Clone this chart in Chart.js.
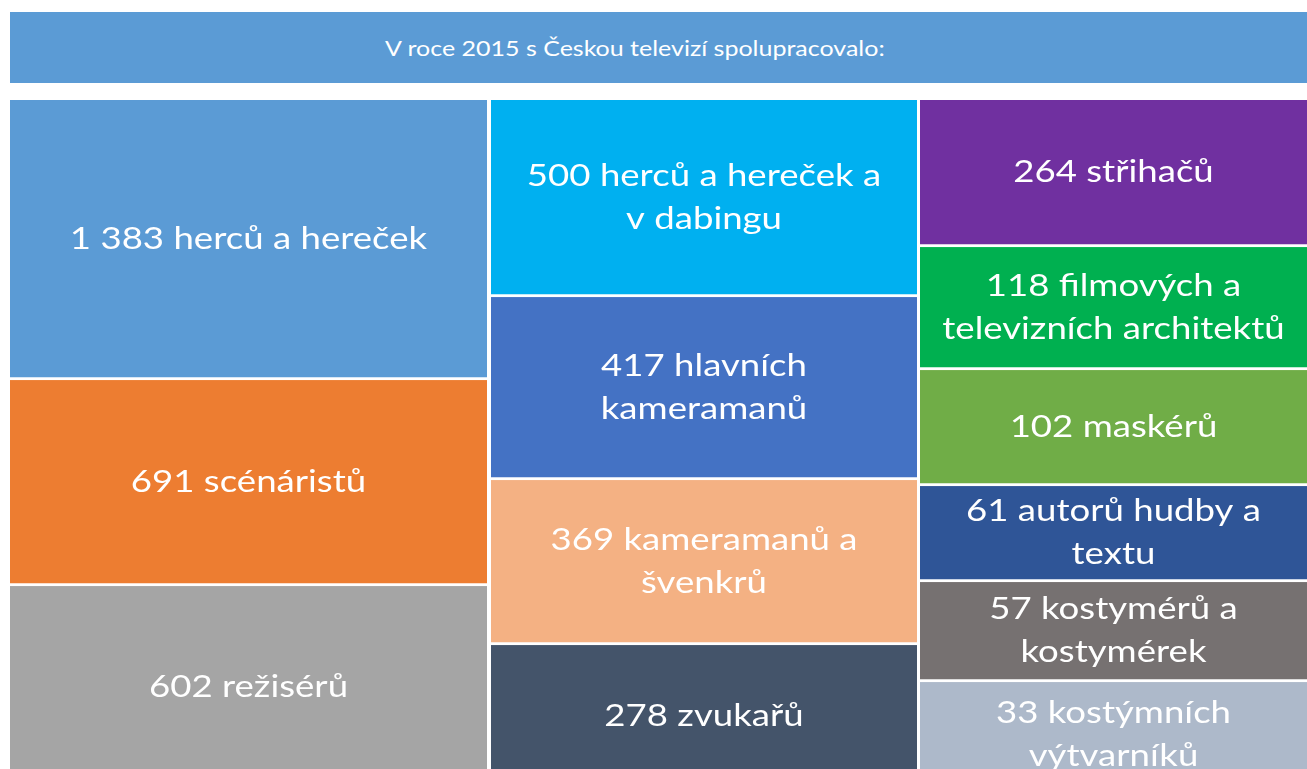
<!DOCTYPE html>
<html><head><meta charset="utf-8">
<script src="https://cdn.jsdelivr.net/npm/chart.js@4/dist/chart.umd.min.js"></script>
<style>
html,body{margin:0;padding:0;background:#fff;overflow:hidden;width:1307px;height:769px;position:relative}
#title{position:absolute;left:10px;top:12px;width:1297px;height:71px;background:#5B9BD5;color:#fff;font:21px Lato,sans-serif;display:flex;align-items:center;justify-content:center}
#title span{display:inline-block;transform:translateX(-24px) scaleX(1.19)}
canvas{position:absolute}
</style></head><body>
<div id="title"><span id="titleText"></span></div>
<canvas id="c1"></canvas><canvas id="c2"></canvas><canvas id="c3"></canvas>
<script>
// ---- data ----
const titleText = 'V roce 2015 s Českou televizí spolupracovalo:';
const col1Values = [1383, 691, 602];
const col1Names = ['herců a hereček', 'scénáristů', 'režisérů'];
const col2Values = [500, 417, 369, 278];
const col2Names = ['herců a hereček a\nv dabingu', 'hlavních\nkameramanů', 'kameramanů a\nšvenkrů', 'zvukařů'];
const col3Values = [264, 118, 102, 61, 57, 33];
const col3Names = ['střihačů', 'filmových a\ntelevizních architektů', 'maskérů', 'autorů hudby a\ntextu', 'kostymérů a\nkostymérek', 'kostýmních\nvýtvarníků'];

// ---- layout (tile heights in the infographic, not proportional to values) ----
const col1Span = [280, 206, 204];
const col2Span = [197, 183, 165, 145];
const col3Span = [147, 123, 116, 96, 100, 108];
const col1Colors = ['#5B9BD5', '#ED7D31', '#A5A5A5'];
const col2Colors = ['#00B0F0', '#4472C4', '#F4B183', '#44546A'];
const col3Colors = ['#7030A0', '#00B050', '#70AD47', '#2F5597', '#767171', '#ADB9CA'];

document.getElementById('titleText').textContent = titleText;

function fmt(n){ return String(n).replace(/\B(?=(\d{3})+(?!\d))/g, '\u00a0'); }

const GAP = 3;
const TEXT_STRETCH = 1.18;
const labelPlugin = {
  id: 'tileLabels',
  afterDatasetsDraw(chart){
    const ctx = chart.ctx;
    chart.data.datasets.forEach((ds, i) => {
      const el = chart.getDatasetMeta(i).data[0];
      const top = Math.min(el.y, el.base), bot = Math.max(el.y, el.base) - GAP;
      const cy = (top + bot) / 2;
      const lines = ds.tileText;
      const lh = 43;
      lines.forEach((ln, k) => {
        ctx.save();
        ctx.fillStyle = '#ffffff';
        ctx.font = '31px Lato, sans-serif';
        ctx.textAlign = 'center';
        ctx.textBaseline = 'middle';
        ctx.translate(el.x, cy + (k - (lines.length - 1) / 2) * lh);
        ctx.scale(TEXT_STRETCH, 1);
        ctx.fillText(ln, 0, 0);
        ctx.restore();
      });
    });
  }
};

function makeCol(id, left, width, values, names, spans, colors){
  const cv = document.getElementById(id);
  const h = 690;
  cv.width = width; cv.height = h;
  cv.style.left = left + 'px'; cv.style.top = '100px';
  cv.style.width = width + 'px'; cv.style.height = h + 'px';
  const total = spans.reduce((a, b) => a + b, 0);
  new Chart(cv, {
    type: 'bar',
    data: {
      labels: [''],
      datasets: values.map((v, i) => {
        const parts = names[i].split('\n');
        parts[0] = fmt(v) + ' ' + parts[0];
        return {
          label: fmt(v) + ' ' + names[i].replace('\n', ' '),
          value: v,
          tileText: parts,
          data: [spans[i]],
          backgroundColor: colors[i],
          borderColor: '#ffffff',
          borderWidth: {top: 0, left: 0, right: 0, bottom: GAP},
          borderSkipped: false,
          barPercentage: 1,
          categoryPercentage: 1
        };
      })
    },
    options: {
      responsive: false,
      animation: false,
      layout: {padding: 0},
      plugins: {legend: {display: false}, tooltip: {enabled: false}, title: {display: false}},
      scales: {
        x: {stacked: true, display: false, offset: true},
        y: {stacked: true, display: false, reverse: true, min: 0, max: total}
      }
    },
    plugins: [labelPlugin]
  });
}

makeCol('c1', 10, 477, col1Values, col1Names, col1Span, col1Colors);
makeCol('c2', 491, 426, col2Values, col2Names, col2Span, col2Colors);
makeCol('c3', 920, 387, col3Values, col3Names, col3Span, col3Colors);
</script>
</body></html>
